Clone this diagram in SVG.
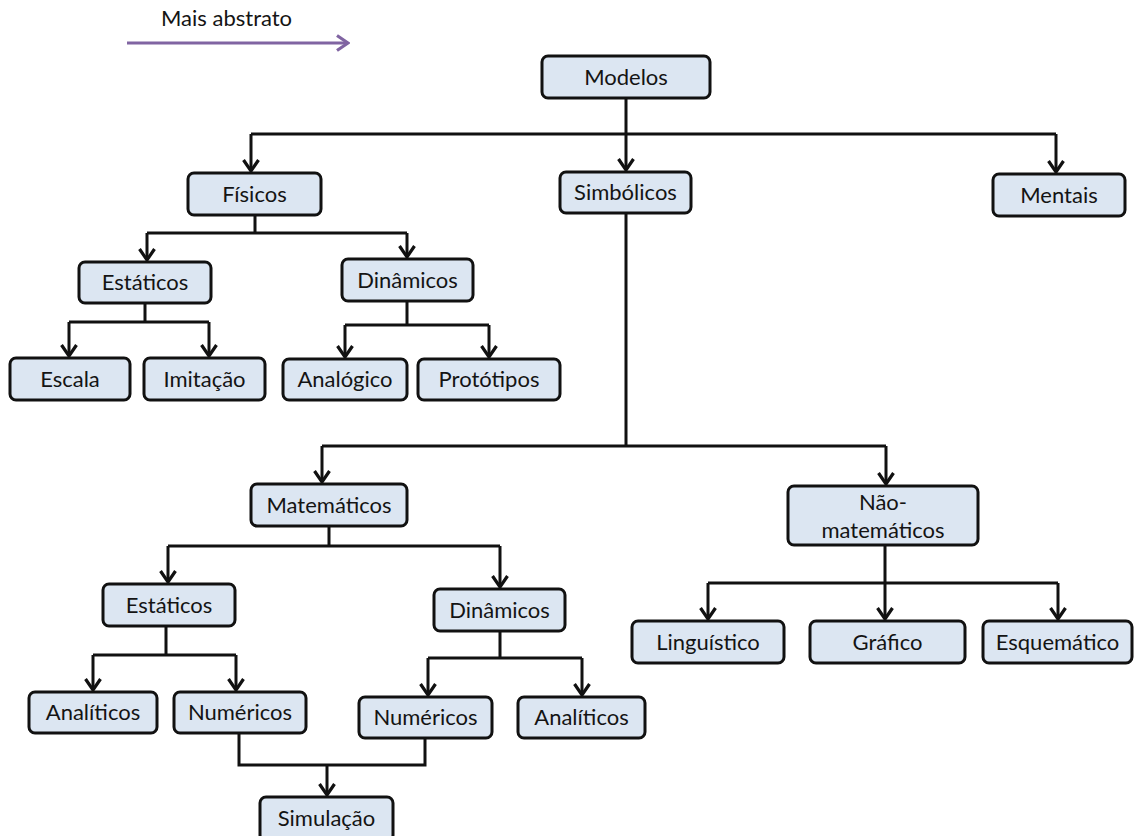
<svg xmlns="http://www.w3.org/2000/svg" width="1134" height="836" viewBox="0 0 1134 836">
  <style>
    .box { fill: #dce6f2; stroke: #111; stroke-width: 3; }
    .lbl { font-family: Lato, "Liberation Sans", sans-serif; font-size: 22px; fill: #141414; text-anchor: middle; }
    .wire { fill: none; stroke: #111; stroke-width: 3; stroke-linejoin: miter; }
    .arrow { marker-end: url(#head); }
  </style>
  <defs>
    <marker id="head" markerUnits="userSpaceOnUse" viewBox="0 0 14 18" refX="12.5" refY="9" markerWidth="14" markerHeight="18" orient="auto">
      <path d="M1.5,1.5 L12.5,9 L1.5,16.5" fill="none" stroke="#111" stroke-width="3.2" stroke-linejoin="miter"/>
    </marker>
    <marker id="purpleHead" markerUnits="userSpaceOnUse" viewBox="0 0 14 18" refX="12.5" refY="9" markerWidth="14" markerHeight="18" orient="auto">
      <path d="M1.5,1.5 L12.5,9 L1.5,16.5" fill="none" stroke="#8064a2" stroke-width="3.2"/>
    </marker>
    <filter id="soft" x="-5%" y="-50%" width="110%" height="200%">
      <feGaussianBlur stdDeviation="1.2"/>
    </filter>
  </defs>

  <!-- direction legend -->
  <g id="legend">
    <text x="161" y="26" font-family="Lato, 'Liberation Sans', sans-serif" font-size="22" fill="#141414">Mais abstrato</text>
    <line x1="128" y1="45" x2="350" y2="45" stroke="#999" stroke-width="3" filter="url(#soft)" opacity="0.6"/>
    <line x1="127" y1="43" x2="348" y2="43" stroke="#8064a2" stroke-width="3" marker-end="url(#purpleHead)"/>
  </g>

  <!-- connectors -->
  <g id="connectors">
    <path class="wire" d="M626,98 V134 M251,134 H1056"/>
    <path class="wire arrow" d="M251,134 V171"/>
    <path class="wire arrow" d="M626,134 V170"/>
    <path class="wire arrow" d="M1056,134 V172"/>

    <path class="wire" d="M255,215 V233 M147,233 H407"/>
    <path class="wire arrow" d="M147,233 V260"/>
    <path class="wire arrow" d="M407,233 V257"/>

    <path class="wire" d="M145,303 V322 M69,322 H209"/>
    <path class="wire arrow" d="M69,322 V356"/>
    <path class="wire arrow" d="M209,322 V356"/>

    <path class="wire" d="M407,301 V325 M345,325 H489"/>
    <path class="wire arrow" d="M345,325 V357"/>
    <path class="wire arrow" d="M489,325 V357"/>

    <path class="wire" d="M626,213 V446 M322,446 H886"/>
    <path class="wire arrow" d="M322,446 V482"/>
    <path class="wire arrow" d="M886,446 V484"/>

    <path class="wire" d="M329,526 V546 M168,546 H500"/>
    <path class="wire arrow" d="M168,546 V582"/>
    <path class="wire arrow" d="M500,546 V587"/>

    <path class="wire" d="M166,626 V655 M93,655 H236"/>
    <path class="wire arrow" d="M93,655 V690"/>
    <path class="wire arrow" d="M236,655 V690"/>

    <path class="wire" d="M500,631 V658 M428,658 H582"/>
    <path class="wire arrow" d="M428,658 V695"/>
    <path class="wire arrow" d="M582,658 V695"/>

    <path class="wire" d="M239,733 V765 H425 V738"/>
    <path class="wire arrow" d="M327,765 V795"/>

    <path class="wire" d="M885,545 V583 M708,583 H1058"/>
    <path class="wire arrow" d="M708,583 V619"/>
    <path class="wire arrow" d="M885,583 V619"/>
    <path class="wire arrow" d="M1058,583 V619"/>
  </g>

  <!-- nodes -->
  <g id="modelos"><rect class="box" x="542" y="56" width="168" height="42" rx="6"/><text class="lbl" x="626" y="85">Modelos</text></g>
  <g id="fisicos"><rect class="box" x="188" y="173" width="133" height="42" rx="6"/><text class="lbl" x="254.5" y="202">Físicos</text></g>
  <g id="simbolicos"><rect class="box" x="560" y="172" width="131" height="41" rx="6"/><text class="lbl" x="625.5" y="200">Simbólicos</text></g>
  <g id="mentais"><rect class="box" x="993" y="174" width="132" height="42" rx="6"/><text class="lbl" x="1059" y="203">Mentais</text></g>

  <g id="fis-estaticos"><rect class="box" x="79" y="262" width="132" height="41" rx="6"/><text class="lbl" x="145" y="290">Estáticos</text></g>
  <g id="fis-dinamicos"><rect class="box" x="342" y="259" width="131" height="42" rx="6"/><text class="lbl" x="407.5" y="288">Dinâmicos</text></g>
  <g id="escala"><rect class="box" x="10" y="358" width="120" height="42" rx="6"/><text class="lbl" x="70" y="387">Escala</text></g>
  <g id="imitacao"><rect class="box" x="144" y="358" width="121" height="42" rx="6"/><text class="lbl" x="204.5" y="387">Imitação</text></g>
  <g id="analogico"><rect class="box" x="283" y="359" width="124" height="41" rx="6"/><text class="lbl" x="345" y="387">Analógico</text></g>
  <g id="prototipos"><rect class="box" x="418" y="359" width="142" height="41" rx="6"/><text class="lbl" x="489" y="387">Protótipos</text></g>

  <g id="matematicos"><rect class="box" x="251" y="484" width="156" height="42" rx="6"/><text class="lbl" x="329" y="513">Matemáticos</text></g>
  <g id="nao-matematicos"><rect class="box" x="788" y="486" width="190" height="59" rx="6"/><text class="lbl" x="883" y="510">Não-</text><text class="lbl" x="883" y="538">matemáticos</text></g>

  <g id="mat-estaticos"><rect class="box" x="103" y="584" width="132" height="42" rx="6"/><text class="lbl" x="169" y="613">Estáticos</text></g>
  <g id="mat-dinamicos"><rect class="box" x="434" y="589" width="131" height="42" rx="6"/><text class="lbl" x="499.5" y="618">Dinâmicos</text></g>
  <g id="est-analiticos"><rect class="box" x="29" y="692" width="128" height="41" rx="6"/><text class="lbl" x="93" y="720">Analíticos</text></g>
  <g id="est-numericos"><rect class="box" x="174" y="692" width="132" height="41" rx="6"/><text class="lbl" x="240" y="720">Numéricos</text></g>
  <g id="din-numericos"><rect class="box" x="359" y="697" width="133" height="41" rx="6"/><text class="lbl" x="425.5" y="725">Numéricos</text></g>
  <g id="din-analiticos"><rect class="box" x="518" y="697" width="127" height="41" rx="6"/><text class="lbl" x="581.5" y="725">Analíticos</text></g>
  <g id="simulacao"><rect class="box" x="260" y="797" width="133" height="44" rx="6"/><text class="lbl" x="326.5" y="826">Simulação</text></g>

  <g id="linguistico"><rect class="box" x="632" y="621" width="152" height="42" rx="6"/><text class="lbl" x="708" y="650">Linguístico</text></g>
  <g id="grafico"><rect class="box" x="810" y="621" width="155" height="42" rx="6"/><text class="lbl" x="887.5" y="650">Gráfico</text></g>
  <g id="esquematico"><rect class="box" x="983" y="621" width="149" height="42" rx="6"/><text class="lbl" x="1057.5" y="650">Esquemático</text></g>
</svg>
